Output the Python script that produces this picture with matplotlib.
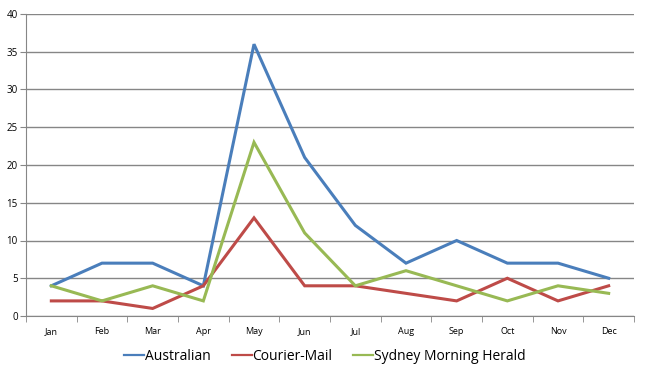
import numpy as np
import matplotlib
matplotlib.use("Agg")
import matplotlib.pyplot as plt

months = ["Jan", "Feb", "Mar", "Apr", "May", "Jun", "Jul", "Aug", "Sep", "Oct", "Nov", "Dec"]
australian = [4, 7, 7, 4, 36, 21, 12, 7, 10, 7, 7, 5]
courier_mail = [2, 2, 1, 4, 13, 4, 4, 3, 2, 5, 2, 4]
smh = [4, 2, 4, 2, 23, 11, 4, 6, 4, 2, 4, 3]

series = [("Australian", australian, "#4A7EBB"),
          ("Courier-Mail", courier_mail, "#BE4B48"),
          ("Sydney Morning Herald", smh, "#98B954")]

plt.rcParams['font.family'] = ['Open Sans', 'DejaVu Sans']

fig = plt.figure(figsize=(6.48, 3.78), dpi=100)
ax = fig.add_axes([26/648, 1-316/378, (634-26)/648, (316-14)/378])

x = np.arange(len(months))
for name, vals, col in series:
    ax.plot(x, vals, color=col, lw=2.2, label=name, solid_joinstyle='miter')

ax.set_xlim(-0.5, 11.5)
ax.set_ylim(0, 40)
ax.set_yticks(range(0, 41, 5))
ax.yaxis.grid(True, color="#868686", lw=1)
ax.set_axisbelow(True)

ax.set_xticks(x)
ax.set_xticklabels(months, fontsize=6.5)
ax.set_xticks(np.arange(-0.5, 12, 1), minor=True)
ax.tick_params(axis='x', which='major', length=0, pad=8)
ax.tick_params(axis='x', which='minor', length=4, color="#868686")
ax.tick_params(axis='y', labelsize=7, length=4, color="#868686", pad=2)

for s in ["top", "right"]:
    ax.spines[s].set_visible(False)
for s in ["left", "bottom"]:
    ax.spines[s].set_color("#868686")

leg = fig.legend(loc="center", bbox_to_anchor=(325/648, 1-356/378), ncol=3, frameon=False,
                 fontsize=10, handlelength=1.45, handletextpad=0.05, columnspacing=1.5)
for line in leg.get_lines():
    line.set_linewidth(1.6)

fig.savefig("out.png", dpi=100)
